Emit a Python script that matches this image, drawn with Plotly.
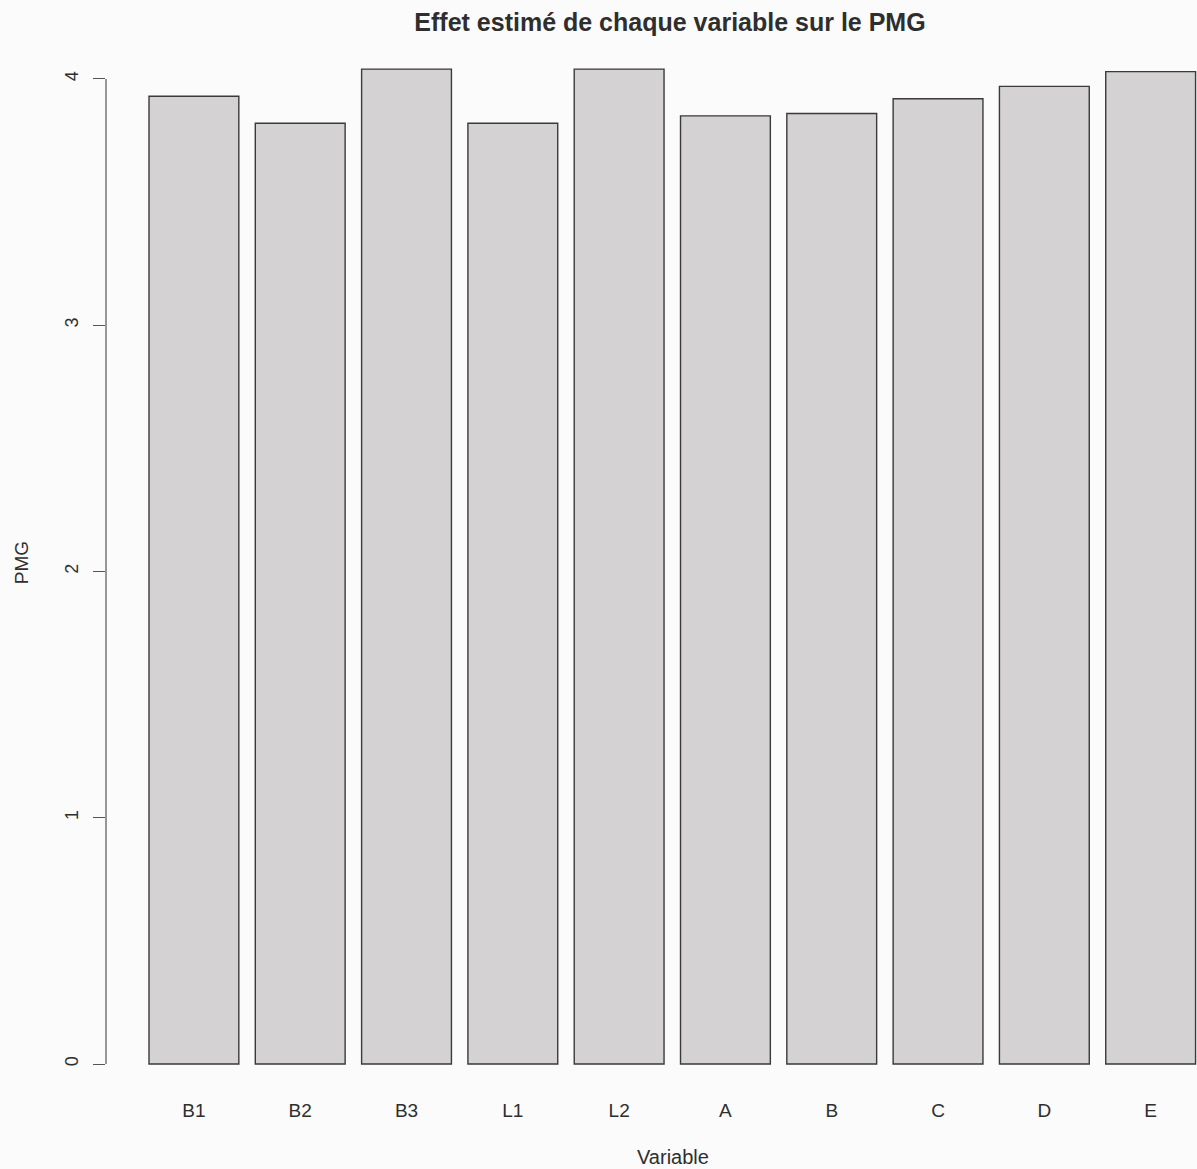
import plotly.graph_objects as go

categories = ["B1", "B2", "B3", "L1", "L2", "A", "B", "C", "D", "E"]
pmg_values = [3.93, 3.82, 4.04, 3.82, 4.04, 3.85, 3.86, 3.92, 3.97, 4.03]
y_ticks = [0, 1, 2, 3, 4]

FONT = "Liberation Sans, Arial, Helvetica, sans-serif"
TXT = "#2e2e2e"

W, H = 1197, 1169
ML, MR, MT, MB = 106, 0, 28, 72
PW, PH = W - ML - MR, H - MT - MB

fig = go.Figure(
    go.Bar(
        x=categories,
        y=pmg_values,
        width=0.845,
        marker=dict(color="#d4d2d2", line=dict(color="#3a3a3a", width=1.4)),
        showlegend=False,
    )
)

fig.update_layout(
    width=W,
    height=H,
    margin=dict(l=ML, r=MR, t=MT, b=MB),
    paper_bgcolor="#fbfbfb",
    plot_bgcolor="#fbfbfb",
    font=dict(family=FONT, color=TXT),
    title=dict(
        text="<b>Effet estimé de chaque variable sur le PMG</b>",
        font=dict(size=25, family=FONT, color=TXT),
        xref="container", x=670 / W, xanchor="center",
        yref="container", y=1 - 22 / H, yanchor="middle",
    ),
    xaxis=dict(
        type="category",
        range=[-0.827, 9.436],
        showgrid=False, zeroline=False, showline=False,
        ticks="", tickfont=dict(size=19, color=TXT),
    ),
    yaxis=dict(
        range=[-0.134, 4.207],
        tickvals=y_ticks,
        ticktext=[str(v) for v in y_ticks],
        tickangle=-90,
        ticks="outside", ticklen=12, tickcolor="#555", tickwidth=1.2,
        ticklabelstandoff=8,
        tickfont=dict(size=18, color=TXT),
        showgrid=False, zeroline=False, showline=False,
        title=dict(text="PMG", font=dict(size=19, color=TXT), standoff=28),
    ),
    shapes=[
        dict(type="line", xref="paper", yref="y", x0=0, x1=0,
             y0=y_ticks[0], y1=y_ticks[-1], line=dict(color="#555", width=1.2))
    ],
    annotations=[
        dict(text="Variable", xref="paper", yref="paper",
             x=(673 - ML) / PW, y=((H - MB) - 1157) / PH,
             xanchor="center", yanchor="middle",
             showarrow=False, font=dict(size=20, color=TXT, family=FONT))
    ],
)

fig.write_html("out.html")
